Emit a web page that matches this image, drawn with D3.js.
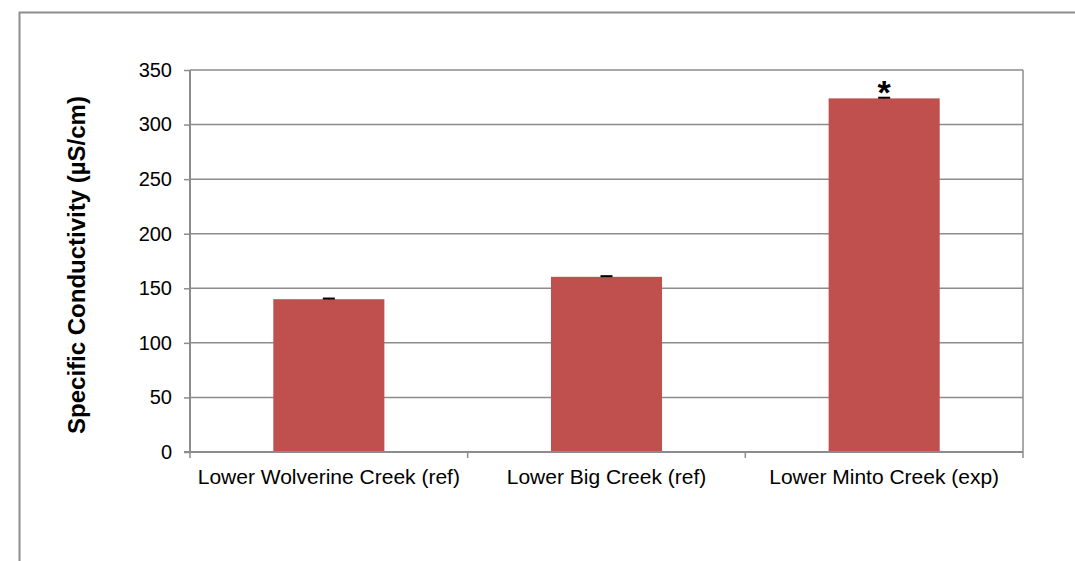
<!DOCTYPE html>
<html>
<head>
<meta charset="utf-8">
<script src="https://cdn.jsdelivr.net/npm/d3@7"></script>
<style>
  body { margin: 0; background: #fff; }
  svg { font-family: "Liberation Sans", Arial, sans-serif; }
</style>
</head>
<body>
<div id="chart"></div>
<script>
// chart data
const sites = ["Lower Wolverine Creek (ref)", "Lower Big Creek (ref)", "Lower Minto Creek (exp)"]
const conductivity = [140, 160.5, 324]
const stdErr = [0.6, 0.6, 0.6]
const significant = [false, false, true]
const yTicks = [0, 50, 100, 150, 200, 250, 300, 350]

const width = 1075, height = 561
const margin = { top: 70, right: 52, bottom: 109, left: 190 }
const innerW = width - margin.left - margin.right
const innerH = height - margin.top - margin.bottom

const svg = d3.select('#chart').append('svg')
  .attr('width', width)
  .attr('height', height)

// outer chart frame (runs off the right and bottom)
svg.append('rect')
  .attr('x', 19.5).attr('y', 12.5)
  .attr('width', 1100).attr('height', 600)
  .attr('fill', 'none')
  .attr('stroke', '#8e8e8e')
  .attr('stroke-width', 2)

const g = svg.append('g')
  .attr('transform', `translate(${margin.left}, ${margin.top})`)

const x = d3.scaleBand().domain(sites).range([0, innerW]).paddingInner(0.6).paddingOuter(0.3)
const xEdge = d3.scaleLinear().domain([0, sites.length]).range([0, innerW])
const y = d3.scaleLinear().domain([0, 350]).range([innerH, 0])

// gridlines
g.append('g')
  .selectAll('line')
  .data(yTicks.filter(d => d > 0))
  .join('line')
  .attr('x1', 0).attr('x2', innerW)
  .attr('y1', d => y(d)).attr('y2', d => y(d))
  .attr('stroke', '#8c8c8c')
  .attr('stroke-width', 1.5)

// right border of plot area
g.append('line')
  .attr('x1', innerW).attr('x2', innerW)
  .attr('y1', 0).attr('y2', innerH)
  .attr('stroke', '#8c8c8c')
  .attr('stroke-width', 1.5)

// bars
g.append('g')
  .selectAll('rect')
  .data(sites)
  .join('rect')
  .attr('x', d => x(d))
  .attr('width', x.bandwidth())
  .attr('y', (d, i) => y(conductivity[i]))
  .attr('height', (d, i) => innerH - y(conductivity[i]))
  .attr('fill', '#c0504d')

// error bars
const err = g.append('g')
sites.forEach((s, i) => {
  const cx = x(s) + x.bandwidth() / 2
  err.append('line')
    .attr('x1', cx).attr('x2', cx)
    .attr('y1', y(conductivity[i] + stdErr[i])).attr('y2', y(conductivity[i]))
    .attr('stroke', '#000').attr('stroke-width', 1.5)
  err.append('line')
    .attr('x1', cx - 6).attr('x2', cx + 6)
    .attr('y1', y(conductivity[i] + stdErr[i])).attr('y2', y(conductivity[i] + stdErr[i]))
    .attr('stroke', '#000').attr('stroke-width', 2)
  if (significant[i]) {
    err.append('text')
      .attr('x', cx)
      .attr('y', y(conductivity[i] + stdErr[i]) + 6)
      .attr('text-anchor', 'middle')
      .style('font-size', '34px')
      .style('font-weight', 'bold')
      .text('*')
  }
})

// y axis
const yAxis = g.append('g')
  .call(d3.axisLeft(y).tickValues(yTicks).tickSize(6).tickPadding(12))
yAxis.select('.domain').attr('stroke', '#8c8c8c').attr('stroke-width', 2).attr('d', `M0,0V${innerH}`)
yAxis.selectAll('.tick line').attr('stroke', '#8c8c8c').attr('stroke-width', 1.5)
yAxis.selectAll('.tick text').style('font-size', '20px').attr('fill', '#000').attr('font-family', null)

// x axis
const xAxis = g.append('g').attr('transform', `translate(0, ${innerH})`)
xAxis.append('line')
  .attr('x1', -6).attr('x2', innerW)
  .attr('stroke', '#8c8c8c').attr('stroke-width', 2)
xAxis.selectAll('.cat-tick')
  .data(d3.range(sites.length + 1))
  .join('line')
  .attr('class', 'cat-tick')
  .attr('x1', d => xEdge(d)).attr('x2', d => xEdge(d))
  .attr('y1', 0).attr('y2', 6)
  .attr('stroke', '#8c8c8c').attr('stroke-width', 1.5)
xAxis.selectAll('.cat-label')
  .data(sites)
  .join('text')
  .attr('class', 'cat-label')
  .attr('x', d => x(d) + x.bandwidth() / 2)
  .attr('y', 32)
  .attr('text-anchor', 'middle')
  .style('font-size', '21px')
  .text(d => d)

// y axis title
svg.append('text')
  .attr('transform', `translate(85, ${margin.top + innerH / 2 + 4}) rotate(-90)`)
  .attr('text-anchor', 'middle')
  .style('font-size', '24px')
  .style('font-weight', 'bold')
  .text('Specific Conductivity (µS/cm)')
</script>
</body>
</html>
